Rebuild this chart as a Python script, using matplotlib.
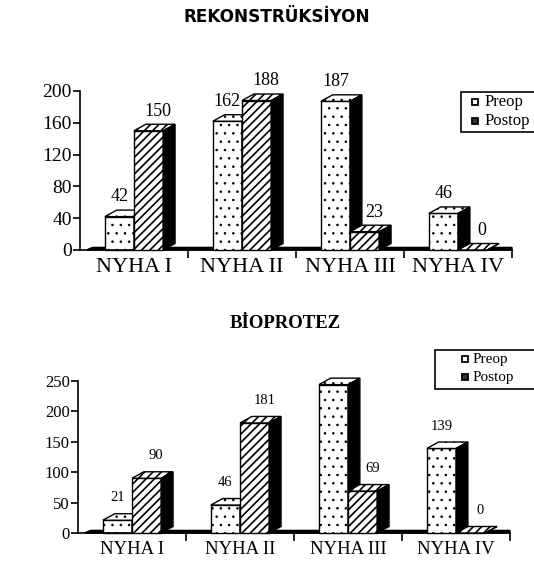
import matplotlib
matplotlib.use("Agg")
import matplotlib.pyplot as plt
from matplotlib.patches import Polygon, Rectangle
from matplotlib.lines import Line2D

categories = ["NYHA I", "NYHA II", "NYHA III", "NYHA IV"]
rek_preop = [42, 162, 187, 46]
rek_postop = [150, 188, 23, 0]
bio_preop = [21, 46, 244, 139]
bio_postop = [90, 181, 69, 0]

rek_ticks = [0, 40, 80, 120, 160, 200]
bio_ticks = [0, 50, 100, 150, 200, 250]

SERIF = "Liberation Serif"
plt.rcParams["hatch.linewidth"] = 1.1

fig = plt.figure(figsize=(5.34, 5.74), dpi=100)


def set_hlw(p, lw):
    f = getattr(p, "set_hatch_linewidth", None)
    if f is not None:
        try:
            f(lw)
        except Exception:
            pass


def bar3d(ax, x, h, w, dx, dy, hatch, z, hlw):
    bars = ax.bar(x, h, w, align="edge", facecolor="white", edgecolor="black",
                  hatch=hatch, linewidth=1.0, clip_on=False, zorder=z)
    for b in bars:
        set_hlw(b, hlw)
    top = Polygon([(x, h), (x + dx, h + dy), (x + w + dx, h + dy), (x + w, h)],
                  closed=True, facecolor="white", edgecolor="black",
                  hatch=hatch, linewidth=1.0, clip_on=False, zorder=z)
    set_hlw(top, hlw)
    side = Polygon([(x + w, 0), (x + w, h), (x + w + dx, h + dy), (x + w + dx, dy)],
                   closed=True, facecolor="black", edgecolor="black",
                   linewidth=1.0, clip_on=False, zorder=z)
    ax.add_patch(top)
    ax.add_patch(side)


def panel(rect, preop, postop, ticks, ymax, tick_fs, cat_fs, val_fs, val_off):
    ax = fig.add_axes(rect)
    ax.set_xlim(-0.5, 3.5)
    ax.set_ylim(0, ymax)
    w = 0.27
    dx = 0.11
    ax_h_px = rect[3] * 574
    dy = 6.5 / ax_h_px * ymax
    floor = Polygon([(-0.44, 0), (-0.44 + dx * 0.5, dy * 0.4), (3.5, dy * 0.4), (3.5, 0)],
                    closed=True, facecolor="black", edgecolor="black", lw=1,
                    clip_on=False, zorder=1)
    ax.add_patch(floor)
    for i in range(len(categories)):
        bar3d(ax, i - w, preop[i], w, dx, dy, "..", 2 + i * 2, 0.6)
        bar3d(ax, i, postop[i], w, dx, dy, "////", 3 + i * 2, 1.2)
        for xl, v, sh in ((i - w, preop[i], 0.0), (i, postop[i], 0.09)):
            ax.annotate(str(v), (xl + w / 2 + sh, v + dy), xytext=(0, val_off),
                        textcoords="offset points", ha="center", va="center",
                        fontsize=val_fs, family=SERIF, zorder=20)
    for s in ("top", "right"):
        ax.spines[s].set_visible(False)
    ax.spines["left"].set_linewidth(1.2)
    ax.spines["bottom"].set_linewidth(1.2)
    ax.set_yticks(ticks)
    ax.set_yticklabels([str(t) for t in ticks], family=SERIF, fontsize=tick_fs)
    ax.tick_params(axis="y", direction="out", length=5, width=1.2, pad=1)
    ax.set_xticks(range(len(categories)))
    ax.set_xticklabels(categories, family=SERIF, fontsize=cat_fs)
    ax.tick_params(axis="x", which="major", length=0, pad=6)
    ax.set_xticks([0.5, 1.5, 2.5, 3.5], minor=True)
    ax.tick_params(axis="x", which="minor", direction="out", length=6, width=1.2)
    ax.set_facecolor("none")
    return ax


panel([80 / 534, 1 - 250 / 574, 432 / 534, 159 / 574], rek_preop, rek_postop,
      rek_ticks, 200, 14, 16, 13, 9.5)
panel([78 / 534, 1 - 533 / 574, 432 / 534, 152 / 574], bio_preop, bio_postop,
      bio_ticks, 250, 12, 13.5, 10.5, 11.5)

fig.text(277 / 534, 1 - 17 / 574, "REKONSTRÜKSİYON", ha="center", va="center",
         family="DejaVu Sans", fontweight="bold", fontsize=12.2)
fig.text(285 / 534, 1 - 323 / 574, "BİOPROTEZ", ha="center", va="center",
         family=SERIF, fontweight="bold", fontsize=13.5)


def legend_box(x0, y0, y1, mx, tx, rows_y, fs, msize):
    fig.patches.append(Rectangle((x0 / 534, 1 - y1 / 574), (540 - x0) / 534, (y1 - y0) / 574,
                                 transform=fig.transFigure, facecolor="white",
                                 edgecolor="black", linewidth=1.2, clip_on=False))
    for (label, fc), ry in zip((("Preop", "white"), ("Postop", "#333333")), rows_y):
        fig.lines.append(Line2D([mx / 534], [1 - ry / 574], marker="s", markersize=msize,
                                markerfacecolor=fc, markeredgecolor="black",
                                markeredgewidth=1.3, transform=fig.transFigure))
        fig.text(tx / 534, 1 - ry / 574, label, ha="left", va="center",
                 family=SERIF, fontsize=fs)


legend_box(461, 92, 132, 475, 485, (102, 121), 12, 5)
legend_box(435, 350, 389, 465, 473, (359, 377), 11, 4.5)

fig.savefig("out.png", dpi=100, facecolor="white")
